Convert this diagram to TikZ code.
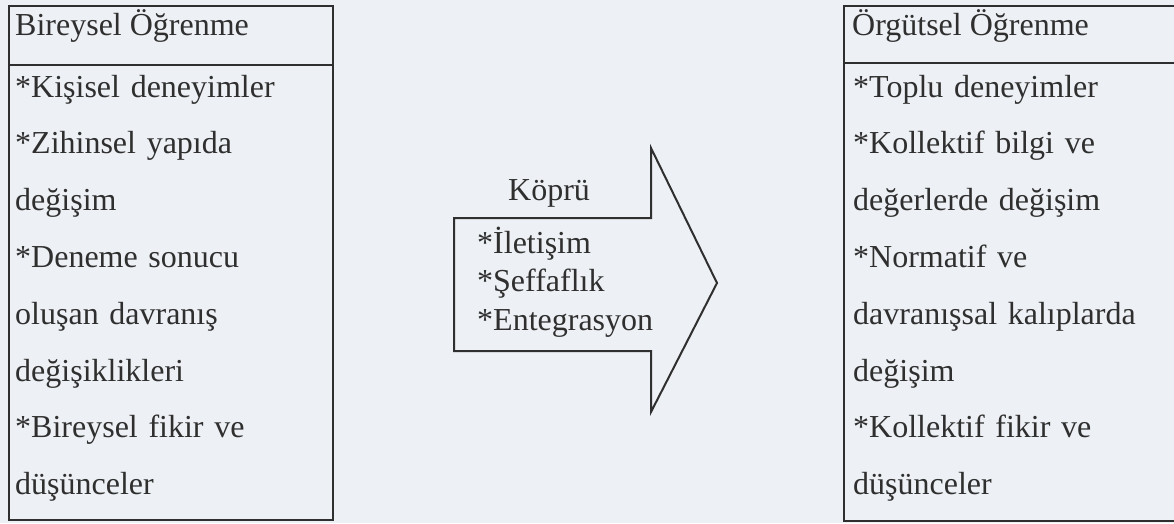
\documentclass[tikz,border=0pt]{standalone}
\usepackage{fontspec}
\setmainfont{Liberation Serif}
\definecolor{paper}{HTML}{EDF0F4}
\definecolor{ink}{HTML}{2F2F2F}
\newcommand{\bul}{{*}}
\begin{document}
\begin{tikzpicture}[x=1pt,y=-1pt,
  frame/.style={draw=ink,line width=2.2pt,anchor=north west,inner sep=0pt},
  txt/.style={anchor=base west,inner sep=0pt,text=ink,font=\fontsize{32}{56.8}\selectfont},
  lst/.style={txt,text width=#1,align=left}]
\fill[paper] (0,0) rectangle (1174,523);
\useasboundingbox (0,0) rectangle (1174,523);
% left box
\node[frame,minimum width=324pt,minimum height=514pt] (lbox) at (8,5) {};
\node[frame,minimum width=324pt,minimum height=59pt] (lhead) at (8,5) {};
\node[txt] (ltitle) at (15,35) {Bireysel Öğrenme};
\node[lst=310pt] (litems) at (15,97) {\bul Kişisel deneyimler\\ \bul Zihinsel yapıda\\ değişim\\ \bul Deneme sonucu\\ oluşan davranış\\ değişiklikleri\\ \bul Bireysel fikir ve\\ düşünceler};
% right box
\node[frame,minimum width=340pt,minimum height=515pt] (rbox) at (843,5) {};
\node[frame,minimum width=340pt,minimum height=57pt] (rhead) at (843,5) {};
\node[txt] (rtitle) at (852,35) {Örgütsel Öğrenme};
\node[lst=310pt] (ritems) at (853,97) {\bul Toplu deneyimler\\ \bul Kollektif bilgi ve\\ değerlerde değişim\\ \bul Normatif ve\\ davranışsal kalıplarda\\ değişim\\ \bul Kollektif fikir ve\\ düşünceler};
% bridge arrow
\draw[draw=ink,line width=2pt,line join=miter]
  (454,218) -- (651,218) -- (651,148) -- (717,283) -- (651,412) -- (651,351) -- (454,351) -- cycle;
\node[txt] (bridge) at (508,200) {Köprü};
\node[txt,text width=200pt,align=left,font=\fontsize{32}{38.5}\selectfont] (bitems) at (477,253) {\bul İletişim\\ \bul Şeffaflık\\ \bul Entegrasyon};
\end{tikzpicture}
\end{document}
